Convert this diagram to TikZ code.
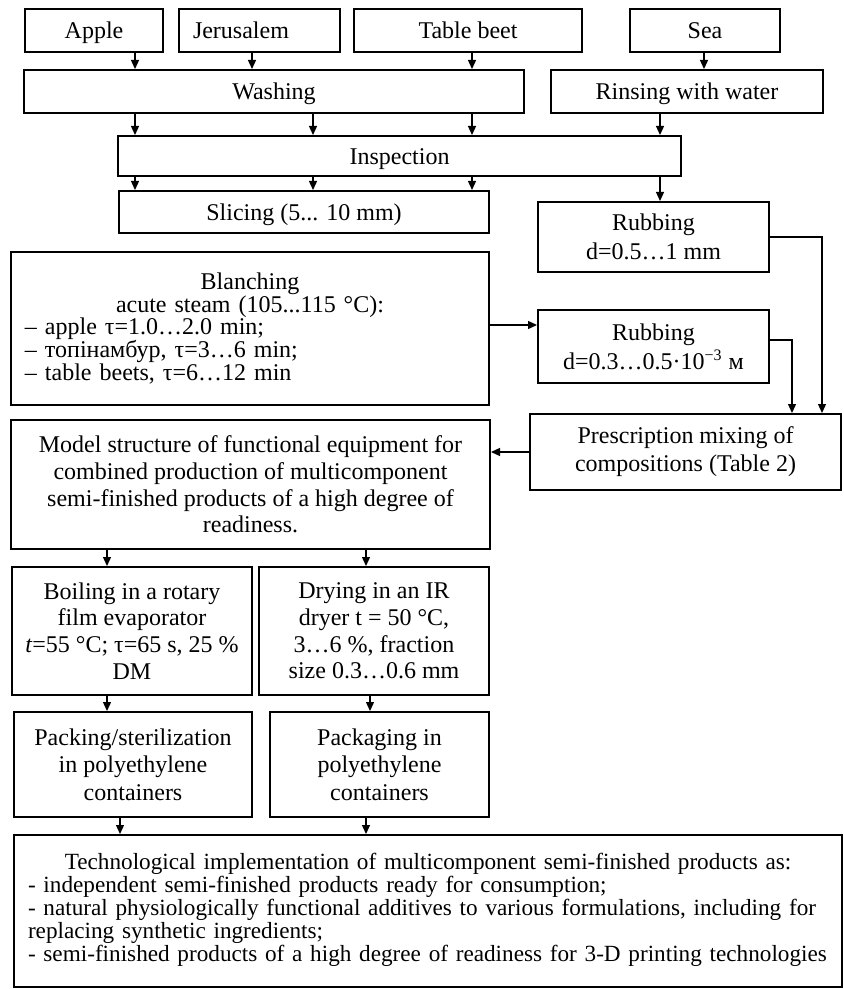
\documentclass[tikz,border=0pt]{standalone}
\usepackage{fontspec}
\setmainfont{Liberation Serif}
\usetikzlibrary{arrows.meta}
\newcommand\fsz[1]{\fontsize{12}{#1}\selectfont\lineskiplimit=-30pt\relax}
\newcommand\fszs[2]{\fontsize{#1}{#2}\selectfont\lineskiplimit=-30pt\relax}
\begin{document}
\begin{tikzpicture}[x=0.5pt,y=-0.5pt,
  box/.style={draw, line width=1pt, inner sep=0pt, align=center, font=\fsz{14}},
  one/.style={text height=9.6pt, text depth=1.2pt},
  arr/.style={-{Triangle[length=4.5pt,width=4pt]}, line width=0.65pt}]
\useasboundingbox (0,0) rectangle (844,989);

% x / y positions of connectors
\coordinate (X107) at (107,0);
\coordinate (X120) at (120,0);
\coordinate (X135) at (135,0);
\coordinate (X252) at (252,0);
\coordinate (X313) at (313,0);
\coordinate (X366) at (366,0);
\coordinate (X370) at (370,0);
\coordinate (X472) at (472,0);
\coordinate (X660) at (660,0);
\coordinate (X704) at (704,0);
\coordinate (X792) at (792,0);
\coordinate (X822) at (822,0);
\coordinate (Y325) at (0,325);
\coordinate (Y340) at (0,340);

% row 1
\node[box, one, minimum width=69pt, minimum height=21.5pt] (apple) at (94,30.5) {Apple};
\node[box, one, align=left, text width=66.5pt, inner xsep=7pt, minimum width=80.5pt, minimum height=21.5pt] (jeru) at (259.5,30.5) {Jerusalem};
\node[box, one, minimum width=114pt, minimum height=21.5pt] (beet) at (468,30.5) {Table beet};
\node[box, one, minimum width=75pt, minimum height=21.5pt] (sea) at (705,30.5) {Sea};

% row 2
\node[box, one, minimum width=250pt, minimum height=21.5pt] (wash) at (274,91.5) {Washing};
\node[box, one, minimum width=136pt, minimum height=21.5pt] (rinse) at (687,91.5) {Rinsing with water};

% row 3
\node[box, one, minimum width=281.5pt, minimum height=20pt] (insp) at (399.5,156) {Inspection};

% row 4
\node[box, one, minimum width=185pt, minimum height=21pt] (slice) at (304,212) {Slicing (5... 10 mm)};
\node[box, minimum width=115.5pt, minimum height=35pt, font=\fsz{14.25}] (rub1) at (653.5,237) {Rubbing\\d=0.5…1 mm};

% blanching
\node[box, align=left, text width=225pt, inner xsep=7pt, minimum width=239pt, minimum height=76.5pt, font=\fsz{11.4}] (blanch) at (250,328.5)
 {\makebox[\linewidth][c]{Blanching}\\\makebox[\linewidth][c]{acute steam (105...115 °C):}\\– apple τ=1.0…2.0 min;\\– топінамбур, τ=3…6 min;\\– table beets, τ=6…12 min};
\node[box, minimum width=115.5pt, minimum height=36.5pt, font=\fsz{14.5}] (rub2) at (653.5,346.5) {Rubbing\\d=0.3…0.5·10\textsuperscript{−3} м};

% prescription / model
\node[box, minimum width=155.5pt, minimum height=38pt, font=\fsz{14}] (presc) at (685.5,452) {Prescription mixing of\\compositions (Table 2)};
\node[box, minimum width=239.5pt, minimum height=64.5pt, font=\fsz{13.35}] (model) at (250.5,484.5)
 {Model structure of functional equipment for\\combined production of multicomponent\\semi-finished products of a high degree of\\readiness.};

% boiling / drying
\node[box, minimum width=120pt, minimum height=64pt, font=\fsz{13.35}] (boil) at (132,631)
 {Boiling in a rotary\\film evaporator\\\textit{t}=55 °C; τ=65 s, 25 \%\\DM};
\node[box, minimum width=115pt, minimum height=64pt, font=\fsz{13.35}] (dry) at (374,631)
 {Drying in an IR\\dryer t = 50 °C,\\3…6 \%, fraction\\size 0.3…0.6 mm};

% packing
\node[box, minimum width=119pt, minimum height=52.5pt, font=\fsz{13.75}] (pack) at (133,764.5)
 {Packing/sterilization\\in polyethylene\\containers};
\node[box, minimum width=109.5pt, minimum height=52.5pt, font=\fsz{13.75}] (packg) at (379.5,764.5)
 {Packaging in\\polyethylene\\containers};

% technological implementation
\node[box, align=left, text width=400pt, inner xsep=7pt, minimum width=414pt, minimum height=76pt, font=\fszs{11.6}{11.5}] (tech) at (428,911)
 {\makebox[\linewidth][c]{Technological implementation of multicomponent semi-finished products as:}\\
  \makebox[\linewidth][l]{- independent semi-finished products ready for consumption;}\\
  \makebox[\linewidth][l]{- natural physiologically functional additives to various formulations, including for}\\
  \makebox[\linewidth][l]{replacing synthetic ingredients;}\\
  \makebox[\linewidth][l]{- semi-finished products of a high degree of readiness for 3-D printing technologies}\\[-8pt]\mbox{}};

% connectors
\draw[arr] (apple.south -| X135) -- (wash.north -| X135);
\draw[arr] (jeru.south -| X252) -- (wash.north -| X252);
\draw[arr] (beet.south -| X472) -- (wash.north -| X472);
\draw[arr] (sea.south -| X704) -- (rinse.north -| X704);

\draw[arr] (wash.south -| X135) -- (insp.north -| X135);
\draw[arr] (wash.south -| X313) -- (insp.north -| X313);
\draw[arr] (wash.south -| X472) -- (insp.north -| X472);
\draw[arr] (rinse.south -| X660) -- (insp.north -| X660);

\draw[arr] (insp.south -| X135) -- (slice.north -| X135);
\draw[arr] (insp.south -| X313) -- (slice.north -| X313);
\draw[arr] (insp.south -| X472) -- (slice.north -| X472);
\draw[arr] (insp.south -| X660) -- (rub1.north -| X660);

\draw[arr] (rub1.east) -| (presc.north -| X822);
\draw[arr] (rub2.east |- Y340) -| (presc.north -| X792);
\draw[arr] (blanch.east |- Y325) -- (rub2.west |- Y325);
\draw[arr] (presc.west) -- (model.east |- presc.west);

\draw[arr] (model.south -| X107) -- (boil.north -| X107);
\draw[arr] (model.south -| X366) -- (dry.north -| X366);
\draw[arr] (boil.south -| X107) -- (pack.north -| X107);
\draw[arr] (dry.south -| X370) -- (packg.north -| X370);
\draw[arr] (pack.south -| X120) -- (tech.north -| X120);
\draw[arr] (packg.south -| X366) -- (tech.north -| X366);
\end{tikzpicture}
\end{document}
